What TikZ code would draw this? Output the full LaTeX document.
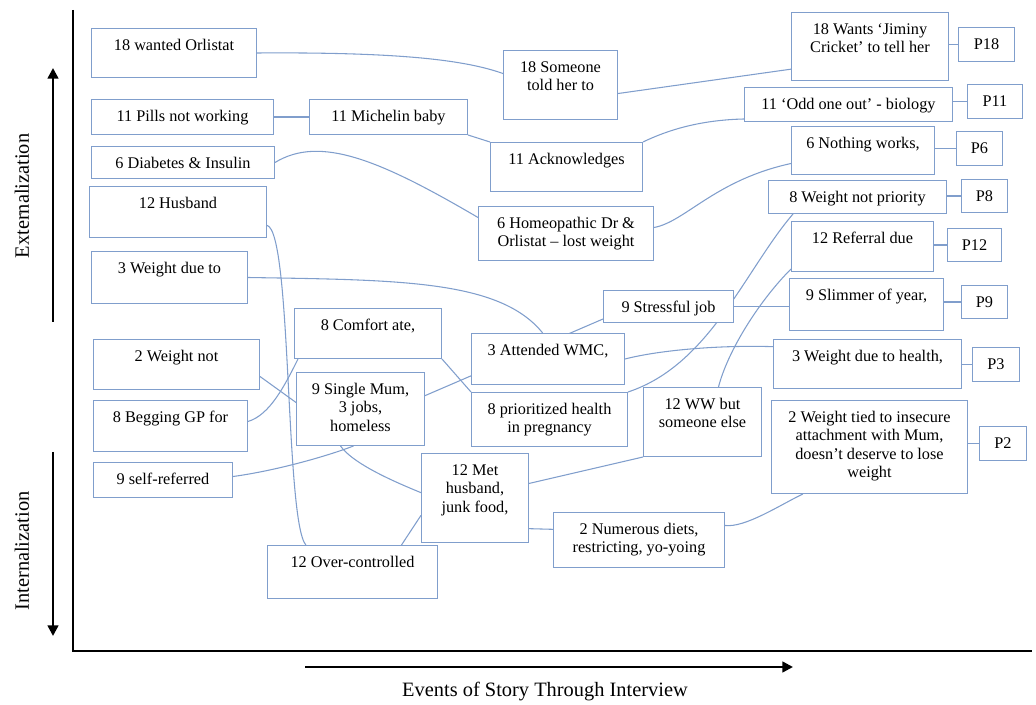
\documentclass[tikz,border=0pt]{standalone}
\usepackage{fontspec}
\setmainfont{Liberation Serif}
\usetikzlibrary{arrows.meta,backgrounds}
\definecolor{boxblue}{RGB}{128,158,204}
\newlength\pxl
\setlength\pxl{0.75pt}
% box text: width, height (in px), text hung from the top
\newcommand{\evtext}[3]{\parbox[c][#2\pxl][t]{#1\pxl}{\centering\rule{0pt}{16.5pt}#3\par}}
\tikzset{
  evbox/.style={draw=boxblue, line width=0.75pt, fill=white, inner sep=0pt,
    anchor=north west, font=\fontsize{12.2}{13.8}\selectfont},
  link/.style={draw=boxblue, line width=0.8pt},
  axisarrow/.style={line width=1.8pt, -{Triangle[width=8pt,length=8pt]}},
  axislabel/.style={font=\fontsize{15.3}{18}\selectfont},
}
\begin{document}
\begin{tikzpicture}[x=0.75pt, y=-0.75pt]
  \useasboundingbox (0,0) rectangle (1036,705);
  % Frame and axes
  \draw[line width=1.5pt] (73,10) -- (73,651) -- (1032,651);
  \draw[axisarrow] (53,322) -- (53,68);
  \draw[axisarrow] (53,452) -- (53,636);
  \draw[axisarrow] (305,667) -- (793,667);
  \node[axislabel, rotate=90] (extlabel) at (22,196) {Externalization};
  \node[axislabel, rotate=90] (intlabel) at (22,551) {Internalization};
  \node[axislabel] (eventslabel) at (545,692) {Events of Story Through Interview};
  % Left column
  \node[evbox] (wanted) at (91,28) {\evtext{165}{49}{18 wanted Orlistat}};
  \node[evbox] (pills) at (91,99) {\evtext{182}{35}{11 Pills not working}};
  \node[evbox] (diabetes) at (91,146) {\evtext{183}{32}{6 Diabetes \& Insulin}};
  \node[evbox] (husband) at (89,186) {\evtext{177}{51}{12 Husband}};
  \node[evbox] (weightdue) at (91,251) {\evtext{156}{52}{3 Weight due to}};
  \node[evbox] (weightnot) at (93,339) {\evtext{166}{50}{2 Weight not}};
  \node[evbox] (begging) at (93,400) {\evtext{154}{51}{8 Begging GP for}};
  \node[evbox] (selfref) at (93,462) {\evtext{139}{35}{9 self-referred}};
  % Middle
  \node[evbox] (michelin) at (309,99) {\evtext{158}{35}{11 Michelin baby}};
  \node[evbox] (someone) at (503,50) {\evtext{114}{69}{18 Someone\\told her to}};
  \node[evbox] (ack) at (490,142) {\evtext{152}{49}{11 Acknowledges}};
  \node[evbox] (homeo) at (478,206) {\evtext{175}{54}{6 Homeopathic Dr \&\\Orlistat – lost weight}};
  \node[evbox] (comfort) at (294,308) {\evtext{147}{50}{8 Comfort ate,}};
  \node[evbox] (singlemum) at (296,372) {\evtext{128}{73}{9 Single Mum,\\3 jobs,\\homeless}};
  \node[evbox] (attended) at (471,333) {\evtext{153}{51}{3 Attended WMC,}};
  \node[evbox] (prioritized) at (471,392) {\evtext{156}{54}{8 prioritized health\\in pregnancy}};
  \node[evbox] (stressful) at (603,290) {\evtext{130}{32}{9 Stressful job}};
  \node[evbox] (met) at (421,453) {\evtext{107}{89}{12 Met\\husband,\\junk food,}};
  \node[evbox] (overcontrolled) at (267,545) {\evtext{170}{53}{12 Over-controlled}};
  \node[evbox] (numerous) at (553,512) {\evtext{171}{55}{2 Numerous diets,\\restricting, yo-yoing}};
  \node[evbox] (ww) at (643,387) {\evtext{118}{69}{12 WW but\\someone else}};
  % Right column
  \node[evbox] (wants) at (791,12) {\evtext{157}{68}{18 Wants ‘Jiminy\\Cricket’ to tell her}};
  \node[evbox] (odd) at (744,87) {\evtext{208}{34}{11 ‘Odd one out’ - biology}};
  \node[evbox] (nothing) at (791,126) {\evtext{143}{48}{6 Nothing works,}};
  \node[evbox] (weightprio) at (768,180) {\evtext{178}{33}{8 Weight not priority}};
  \node[evbox] (referral) at (791,221) {\evtext{142}{50}{12 Referral due}};
  \node[evbox] (slimmer) at (789,278) {\evtext{154}{52}{9 Slimmer of year,}};
  \node[evbox] (weighthealth) at (773,339) {\evtext{188}{49}{3 Weight due to health,}};
  \node[evbox] (tied) at (771,400) {\evtext{196}{93}{2 Weight tied to insecure\\attachment with Mum,\\doesn’t deserve to lose\\weight}};
  % Participants
  \node[evbox] (p18) at (958,27) {\evtext{56}{34}{P18}};
  \node[evbox] (p11) at (967,84) {\evtext{55}{34}{P11}};
  \node[evbox] (p6) at (956,131) {\evtext{46}{34}{P6}};
  \node[evbox] (p8) at (961,179) {\evtext{46}{33}{P8}};
  \node[evbox] (p12) at (947,228) {\evtext{54}{33}{P12}};
  \node[evbox] (p9) at (961,285) {\evtext{46}{33}{P9}};
  \node[evbox] (p3) at (972,347) {\evtext{47}{34}{P3}};
  \node[evbox] (p2) at (979,426) {\evtext{47}{34}{P2}};
  \begin{scope}[on background layer]
    % 18
    \draw[link] (wanted.east) .. controls (400,52) and (465,60) .. ([yshift=8.6pt]someone.west);
    \draw[link] ([yshift=-6.4pt]someone.east) -- ([yshift=-17pt]wants.west);
    \draw[link] (wants.east |- p18.west) -- (p18.west);
    % 11
    \draw[link] (pills.east) -- (michelin.west);
    \draw[link] (michelin.south east) -- (ack.north west);
    \draw[link] (ack.north east) .. controls (668,130) and (700,120) .. ([yshift=2.25pt]odd.south west);
    \draw[link] (odd.east |- p11.west) -- (p11.west);
    % 6
    \draw[link] (diabetes.east) .. controls (320,135) and (380,160) .. ([yshift=12pt]homeo.west);
    \draw[link] ([yshift=4.5pt]homeo.east) .. controls (685,222) and (715,180) .. ([yshift=-9.75pt]nothing.west);
    \draw[link] (nothing.east |- p6.west) -- (p6.west);
    % 8
    \draw[link] ([yshift=3.4pt]begging.east) .. controls (270,415) and (285,385) .. ([xshift=3pt]comfort.south west);
    \draw[link] (comfort.south east) -- (prioritized.north west);
    \draw[link] (prioritized.north east) .. controls (710,365) and (745,270) .. ([xshift=18.75pt]weightprio.south west);
    \draw[link] (weightprio.east |- p8.west) -- (p8.west);
    % 12
    \draw[link] ([yshift=-10pt]husband.east) .. controls (292,232) and (285,520) .. ([xshift=-35pt]overcontrolled.north);
    \draw[link] ([xshift=36.75pt]overcontrolled.north) -- ([yshift=-13pt]met.west);
    \draw[link] ([yshift=10.9pt]met.east) -- (ww.south west);
    \draw[link] ([xshift=12pt]ww.north) .. controls (728,350) and (760,300) .. ([yshift=2.25pt]referral.south west);
    \draw[link] (referral.east |- p12.west) -- (p12.west);
    % 9
    \draw[link] ([yshift=2.6pt]selfref.east) .. controls (280,470) and (330,455) .. ([xshift=-5.25pt]singlemum.south);
    \draw[link] ([yshift=10pt]singlemum.east) -- ([yshift=3pt]stressful.south west);
    \draw[link] (stressful.east) -- (stressful.east -| slimmer.west);
    \draw[link] (slimmer.east |- p9.west) -- (p9.west);
    % 3
    \draw[link] (weightdue.east) .. controls (400,280) and (500,280) .. ([xshift=-4pt]attended.north);
    \draw[link] (attended.east) .. controls (660,350) and (720,345) .. ([yshift=13pt]weighthealth.west);
    \draw[link] (weighthealth.east |- p3.west) -- (p3.west);
    % 2
    \draw[link] ([yshift=-9pt]weightnot.east) -- ([yshift=4.9pt]singlemum.west);
    \draw[link] ([xshift=-15pt]singlemum.south) .. controls (352,462) and (385,478) .. ([yshift=4pt]met.west);
    \draw[link] ([yshift=-23pt]met.east) -- ([yshift=8pt]numerous.west);
    \draw[link] ([yshift=10.9pt]numerous.east) .. controls (745,528) and (780,505) .. ([xshift=-50pt]tied.south);
    \draw[link] (tied.east |- p2.west) -- (p2.west);
  \end{scope}
\end{tikzpicture}
\end{document}
